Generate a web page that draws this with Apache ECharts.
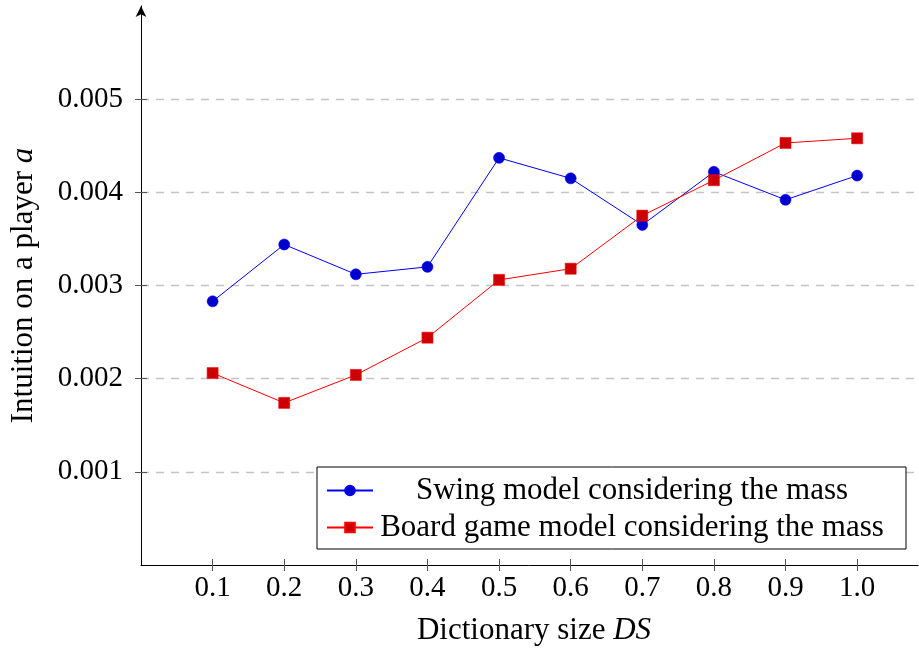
<!DOCTYPE html>
<html>
<head>
<meta charset="utf-8">
<title>Intuition vs dictionary size</title>
<script src="https://cdn.jsdelivr.net/npm/echarts@6/dist/echarts.min.js"></script>
<style>
  html, body { margin: 0; padding: 0; background: #fff; }
  #chart { width: 919px; height: 652px; }
</style>
</head>
<body>
<div id="chart"></div>
<script>
// Dictionary sizes (x) and the two measured series
const dictionarySize = [0.1, 0.2, 0.3, 0.4, 0.5, 0.6, 0.7, 0.8, 0.9, 1.0];
const swingMass = [0.00283, 0.00344, 0.00312, 0.00320, 0.00437, 0.00415, 0.00365, 0.00422, 0.00392, 0.00418];
const boardMass = [0.00206, 0.00174, 0.00204, 0.00244, 0.00306, 0.00318, 0.00375, 0.00413, 0.00453, 0.00458];
const xTicks = [0.1, 0.2, 0.3, 0.4, 0.5, 0.6, 0.7, 0.8, 0.9, 1.0];
const yTicks = [0.001, 0.002, 0.003, 0.004, 0.005];
const seriesNames = ['Swing model considering the mass', 'Board game model considering the mass'];

const serif = '"Liberation Serif", "DejaVu Serif", serif';
const tickColor = '#555';

function pairs(ys) { return dictionarySize.map((x, i) => [x, ys[i]]); }

const chart = echarts.init(document.getElementById('chart'), null, { renderer: 'canvas' });

const xBase = {
  type: 'value', min: 0, max: 1.085, gridIndex: 0,
  splitLine: { show: false }
};
const yBase = {
  type: 'value', min: 0, max: 0.006, interval: 0.001, gridIndex: 0
};

chart.setOption({
  animation: false,
  backgroundColor: '#fff',
  grid: { left: 141, right: 1, top: 6, bottom: 87, containLabel: false },
  xAxis: [
    Object.assign({}, xBase, {
      position: 'bottom',
      name: 'Dictionary size {i|DS}',
      nameLocation: 'middle',
      nameGap: 50,
      nameTextStyle: {
        fontFamily: serif, fontSize: 31, color: '#000', padding: [0, 0, 0, 9],
        rich: { i: { fontFamily: serif, fontSize: 31, fontStyle: 'italic', color: '#000' } }
      },
      axisLine: { show: true, onZero: false, lineStyle: { color: '#000', width: 1 } },
      axisTick: { show: true, inside: false, length: 6, customValues: xTicks, lineStyle: { color: tickColor, width: 1 } },
      axisLabel: {
        show: true, margin: 9, customValues: xTicks,
        formatter: v => v.toFixed(1),
        fontFamily: serif, fontSize: 29, color: '#000'
      }
    }),
    Object.assign({}, xBase, {
      position: 'bottom',
      axisLine: { show: false },
      axisTick: { show: true, inside: true, length: 6, customValues: xTicks, lineStyle: { color: tickColor, width: 1 } },
      axisLabel: { show: false }
    })
  ],
  yAxis: [
    Object.assign({}, yBase, {
      position: 'left',
      name: 'Intuition on a player {i|a}',
      nameLocation: 'middle',
      nameGap: 102,
      nameTextStyle: {
        fontFamily: serif, fontSize: 31, color: '#000',
        rich: { i: { fontFamily: serif, fontSize: 31, fontStyle: 'italic', color: '#000' } }
      },
      axisLine: {
        show: true, onZero: false,
        symbol: ['none', 'arrow'], symbolSize: [8, 11], symbolOffset: [0, 0],
        lineStyle: { color: '#000', width: 1 }
      },
      axisTick: { show: true, inside: false, length: 6, customValues: yTicks, lineStyle: { color: tickColor, width: 1 } },
      axisLabel: {
        show: true, margin: 18, customValues: yTicks,
        formatter: v => v.toFixed(3),
        fontFamily: serif, fontSize: 29, color: '#000'
      },
      splitLine: {
        show: true,
        lineStyle: { color: '#c4c4c4', width: 1.3, type: [8, 7] }
      }
    }),
    Object.assign({}, yBase, {
      position: 'left',
      axisLine: { show: false },
      axisTick: { show: true, inside: true, length: 6, customValues: yTicks, lineStyle: { color: tickColor, width: 1 } },
      axisLabel: { show: false },
      splitLine: { show: false }
    })
  ],
  legend: {
    orient: 'vertical',
    left: 317, top: 467,
    padding: [8, 20, 6, 9],
    itemGap: 6,
    itemWidth: 46, itemHeight: 12,
    borderColor: '#000', borderWidth: 1, borderRadius: 0,
    backgroundColor: '#fff',
    data: seriesNames,
    formatter: name => '{c|' + name + '}',
    textStyle: {
      fontFamily: serif, fontSize: 31, color: '#000',
      rich: { c: { width: 508, align: 'center', fontFamily: serif, fontSize: 31, lineHeight: 32, color: '#000' } }
    }
  },
  series: [
    {
      name: seriesNames[0], type: 'line', xAxisIndex: 0, yAxisIndex: 0,
      data: pairs(swingMass),
      symbol: 'circle', symbolSize: 11,
      lineStyle: { color: '#0000ff', width: 1 },
      itemStyle: { color: '#0000cc', borderColor: '#0000ff', borderWidth: 0.6 },
      z: 3
    },
    {
      name: seriesNames[1], type: 'line', xAxisIndex: 0, yAxisIndex: 0,
      data: pairs(boardMass),
      symbol: 'rect', symbolSize: 11,
      lineStyle: { color: '#ff0000', width: 1 },
      itemStyle: { color: '#cc0000', borderColor: '#ff0000', borderWidth: 0.6 },
      z: 4
    }
  ]
});
</script>
</body>
</html>
